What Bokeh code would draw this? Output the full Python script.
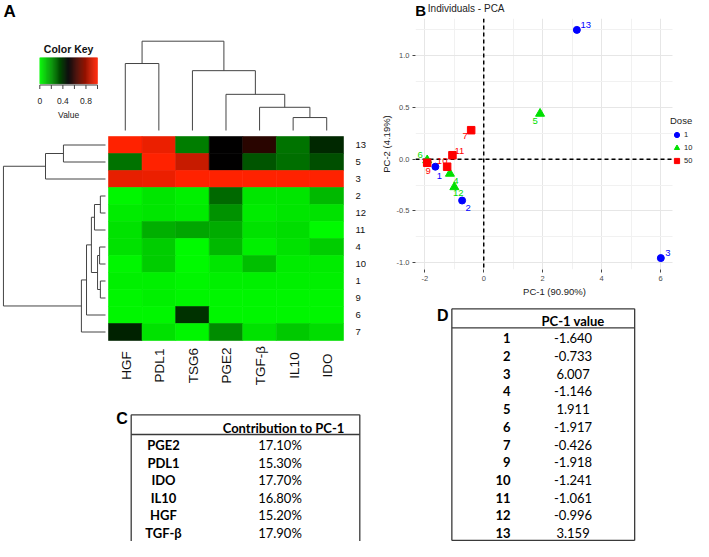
import math
from bokeh.plotting import figure
from bokeh.models import (Range1d, Span, Legend, LegendItem, FixedTicker, BoxAnnotation,
                          PrintfTickFormatter, ColumnDataSource)
from bokeh.layouts import row, column
from bokeh.embed import file_html
from bokeh.resources import INLINE
from bokeh.core.properties import value
from bokeh.transform import linear_cmap

# ======================= DATA =======================
# Panel A : heatmap (rows in displayed order, top to bottom)
genes = ["HGF", "PDL1", "TSG6", "PGE2", "TGF-β", "IL10", "IDO"]
heat_rows = ["13", "5", "3", "2", "12", "11", "4", "10", "1", "9", "6", "7"]
heat_13 = [1.00, 0.96, 0.25, 0.50, 0.58, 0.27, 0.42]
heat_5 = [0.27, 1.00, 0.89, 0.50, 0.33, 0.28, 0.34]
heat_3 = [0.95, 0.96, 1.00, 1.00, 1.00, 1.00, 1.00]
heat_2 = [0.01, 0.04, 0.02, 0.29, 0.04, 0.04, 0.13]
heat_12 = [0.03, 0.04, 0.03, 0.21, 0.03, 0.04, 0.05]
heat_11 = [0.05, 0.15, 0.17, 0.16, 0.05, 0.06, 0.00]
heat_4 = [0.05, 0.09, 0.00, 0.13, 0.02, 0.05, 0.09]
heat_10 = [0.01, 0.09, 0.00, 0.04, 0.12, 0.03, 0.03]
heat_1 = [0.02, 0.02, 0.01, 0.02, 0.02, 0.02, 0.02]
heat_9 = [0.01, 0.02, 0.01, 0.01, 0.01, 0.01, 0.01]
heat_6 = [0.01, 0.01, 0.40, 0.01, 0.01, 0.01, 0.01]
heat_7 = [0.43, 0.05, 0.01, 0.22, 0.05, 0.10, 0.06]
heat_values = [heat_13, heat_5, heat_3, heat_2, heat_12, heat_11,
               heat_4, heat_10, heat_1, heat_9, heat_6, heat_7]

# dendrograms as linkage lists: (child_a, child_b, merge height); leaves first, new ids appended
col_merges = [(5, 6, 0.29), (4, 7, 0.52), (3, 8, 0.81), (2, 9, 1.34), (0, 1, 1.50), (11, 10, 2.00)]
row_merges = [(0, 1, 1.64), (12, 2, 2.34), (3, 4, 0.20), (14, 5, 0.43), (6, 7, 0.23),
              (8, 9, 0.20), (16, 17, 0.31), (15, 18, 0.55), (19, 10, 0.74), (20, 11, 0.94),
              (13, 21, 3.98)]

key_ticks = [0.0, 0.2, 0.4, 0.6, 0.8, 1.0]
key_tick_labels = ["0", "0.4", "0.8"]
key_label_at = [0.0, 0.4, 0.8]

# Panel B : PCA
pca_ids = ["1", "2", "3", "4", "5", "6", "7", "9", "10", "11", "12", "13"]
pc1 = [-1.640, -0.733, 6.007, -1.146, 1.911, -1.917, -0.426, -1.918, -1.241, -1.061, -0.996, 3.159]
pc2 = [-0.073, -0.400, -0.957, -0.140, 0.440, -0.010, 0.280, -0.035, -0.073, 0.038, -0.270, 1.250]
dose = ["1", "1", "1", "10", "10", "10", "50", "50", "50", "50", "10", "1"]
dose_levels = ["1", "10", "50"]
x_ticks = [-2, 0, 2, 4, 6]
x_minor = [-1, 1, 3, 5]
y_ticks = [-1.0, -0.5, 0.0, 0.5, 1.0]
y_minor = [-0.75, -0.25, 0.25, 0.75, 1.25]
x_lim = (-2.314, 6.403)
y_lim = (-1.067, 1.36)

# Panel C : contributions
contrib_genes = ["PGE2", "PDL1", "IDO", "IL10", "HGF", "TGF-β"]
contrib_pct = ["17.10%", "15.30%", "17.70%", "16.80%", "15.20%", "17.90%"]

# Panel D : PC-1 values (pca_ids / pc1)

# ======================= STYLE =======================
ARIAL = "Liberation Sans"
CALIBRI = "Lato"
LINE = "#444444"
W, H = 693, 541          # whole page content
SPLIT_X = 366            # boundary between left and right columns
STRIP_H = 18
RIGHT_COL_W = 409
SHIFT = 41               # observed horizontal offset of strip / table D in the right column


def make_palette(n=256):
    pal = []
    for k in range(n):
        t = k / (n - 1)
        if t <= 0.5:
            s = (0.5 - t) / 0.5
            r, g, b = 0, 250 * s, 0
        else:
            s = (t - 0.5) / 0.5
            r, g, b = 255 * s, 34 * s, 0
        pal.append("#%02x%02x%02x" % (int(round(r)), int(round(g)), int(round(b))))
    return pal


PALETTE = make_palette()


def mapped_range(lo_px, hi_px, px_at_zero, px_per_unit):
    return Range1d(start=(lo_px - px_at_zero) / px_per_unit, end=(hi_px - px_at_zero) / px_per_unit)


def dendro_segments(merges, leaf_pos):
    pos = list(leaf_pos)
    hgt = [0.0] * len(leaf_pos)
    p0, h0, p1, h1 = [], [], [], []
    for a, b, h in merges:
        for c in (a, b):
            p0.append(pos[c]); h0.append(hgt[c]); p1.append(pos[c]); h1.append(h)
        p0.append(pos[a]); h0.append(h); p1.append(pos[b]); h1.append(h)
        pos.append((pos[a] + pos[b]) / 2.0)
        hgt.append(h)
    return p0, h0, p1, h1


def blank_fig(x0, x1, y0, y1):
    p = figure(width=x1 - x0, height=y1 - y0, x_range=Range1d(x0, x1), y_range=Range1d(y1, y0),
               x_axis_location=None, y_axis_location=None, min_border=0,
               toolbar_location=None, output_backend="svg", outline_line_color=None,
               background_fill_color="white", border_fill_color="white", align="start")
    p.xgrid.visible = False
    p.ygrid.visible = False
    return p


# ======================= PANEL A =======================
pA = blank_fig(0, SPLIT_X, 0, 400)
pA.extra_x_ranges = {
    "col": mapped_range(0, SPLIT_X, 108, 33.57),
    "rowdend": mapped_range(0, SPLIT_X, 105, -25.64),
    "key": mapped_range(0, SPLIT_X, 39.3, 57.7),
}
pA.extra_y_ranges = {
    "row": mapped_range(400, 0, 340, -17.0),
    "coldend": mapped_range(400, 0, 130, -44.65),
}
nrow = len(heat_rows)
hx, hy, hv = [], [], []
for i, vals in enumerate(heat_values):
    for j, v in enumerate(vals):
        hx.append(j + 0.5)
        hy.append(nrow - 1 - i + 0.5)
        hv.append(v)
cmap = linear_cmap("v", PALETTE, 0, 1)
pA.rect(x="x", y="y", width=1, height=1, source=ColumnDataSource(dict(x=hx, y=hy, v=hv)),
        fill_color=cmap, line_color=cmap, line_width=0.6, x_range_name="col", y_range_name="row")

cp0, ch0, cp1, ch1 = dendro_segments(col_merges, [j + 0.5 for j in range(len(genes))])
pA.segment(x0=cp0, y0=ch0, x1=cp1, y1=ch1, line_color=LINE, line_width=1,
           x_range_name="col", y_range_name="coldend")
rp0, rh0, rp1, rh1 = dendro_segments(row_merges, [nrow - 1 - i + 0.5 for i in range(nrow)])
pA.segment(x0=rh0, y0=rp0, x1=rh1, y1=rp1, line_color=LINE, line_width=1,
           x_range_name="rowdend", y_range_name="row")

pA.text(x=[355] * nrow, y=[nrow - 1 - i + 0.5 for i in range(nrow)], text=heat_rows,
        text_font=value(ARIAL), text_font_size="9.5px", text_align="left",
        text_baseline="middle", text_color="#111111", y_range_name="row")
pA.text(x=[j + 0.5 for j in range(len(genes))], y=[365] * len(genes), text=genes,
        angle=math.pi / 2, x_offset=1, text_font=value(ARIAL), text_font_size="13.5px",
        text_align="center", text_baseline="alphabetic", text_color="#111111",
        x_range_name="col")

nk = 60
kx = [(k + 0.5) / nk for k in range(nk)]
pA.rect(x="x", y=70.3, width=1.0 / nk * 1.04, height=26,
        source=ColumnDataSource(dict(x=kx, v=kx)), fill_color=cmap, line_color=cmap,
        line_width=0.5, x_range_name="key")
pA.segment(x0=[key_ticks[0]], y0=[84.5], x1=[key_ticks[-1]], y1=[84.5], line_color=LINE,
           line_width=1, x_range_name="key")
pA.segment(x0=key_ticks, y0=[84.5] * len(key_ticks), x1=key_ticks, y1=[88.5] * len(key_ticks),
           line_color=LINE, line_width=1, x_range_name="key")
pA.text(x=key_label_at, y=[100] * 3, text=key_tick_labels, text_font=value(ARIAL),
        text_font_size="8.5px", text_align="center", text_baseline="middle",
        text_color="#222222", x_range_name="key")
pA.text(x=[0.5], y=[114], text=["Value"], text_font=value(ARIAL), text_font_size="8.5px",
        text_align="center", text_baseline="middle", text_color="#222222", x_range_name="key")
pA.text(x=[0.5], y=[48.5], text=["Color Key"], text_font=value(ARIAL), text_font_size="10.5px",
        text_font_style="bold", text_align="center", text_baseline="middle",
        text_color="#111111", x_range_name="key")
pA.text(x=[3], y=[11], text=["A"], text_font=value(ARIAL), text_font_size="17px",
        text_font_style="bold", text_align="left", text_baseline="middle", text_color="black")

# ======================= PANEL B =======================
stripB = blank_fig(SPLIT_X + SHIFT, SPLIT_X + SHIFT + RIGHT_COL_W, 0, STRIP_H)
stripB.text(x=[413], y=[9.5], text=["B"], text_font=value(ARIAL), text_font_size="15px",
            text_font_style="bold", text_align="center", text_baseline="middle",
            text_color="black")
stripB.text(x=[421], y=[7.5], text=["Individuals - PCA"], text_font=value(ARIAL),
            text_font_size="10px", text_align="left", text_baseline="middle",
            text_color="#222222")

FRAME_L, FRAME_PANEL_R = 415, 672       # ggplot panel edges (page px)
PX_PER_X = (FRAME_PANEL_R - FRAME_L) / (x_lim[1] - x_lim[0])
x_end = x_lim[0] + (W - FRAME_L) / PX_PER_X   # frame runs on to the page edge (legend area)
pB = figure(width=W - SPLIT_X, height=300 - STRIP_H, x_range=Range1d(x_lim[0], x_end),
            y_range=Range1d(*y_lim),
            min_border_left=FRAME_L - SPLIT_X, min_border_right=0, min_border_top=0,
            min_border_bottom=31, align="start",
            toolbar_location=None, output_backend="svg", outline_line_color=None,
            background_fill_color="white", border_fill_color="white")
xt = FixedTicker(ticks=x_ticks, minor_ticks=x_minor)
yt = FixedTicker(ticks=y_ticks, minor_ticks=y_minor)
pB.xaxis.ticker = xt
pB.yaxis.ticker = yt
pB.xgrid.ticker = xt
pB.ygrid.ticker = yt
pB.yaxis.formatter = PrintfTickFormatter(format="%.1f")
pB.xaxis.formatter = PrintfTickFormatter(format="%d")
for g in (pB.xgrid, pB.ygrid):
    g.grid_line_color = "#E6E6E6"
    g.minor_grid_line_color = "#F1F1F1"
for ax in (pB.xaxis, pB.yaxis):
    ax.axis_line_color = None
    ax.major_tick_line_color = "#444444"
    ax.major_tick_out = 3
    ax.major_tick_in = 0
    ax.minor_tick_line_color = None
    ax.major_label_text_font = ARIAL
    ax.major_label_text_font_size = "7.5px"
    ax.major_label_text_color = "#4D4D4D"
    ax.major_label_standoff = 2
    ax.axis_label_text_font = ARIAL
    ax.axis_label_text_font_size = "9.5px"
    ax.axis_label_text_font_style = "normal"
    ax.axis_label_text_color = "#222222"
    ax.axis_label_standoff = 2
pB.xaxis.axis_label = "PC-1 (90.90%)"
pB.yaxis.axis_label = "PC-2 (4.19%)"

pB.add_layout(Span(location=0, dimension="height", line_color="black", line_dash="4 3",
                   line_width=1.5, level="underlay"))
pB.add_layout(Span(location=0, dimension="width", line_color="black", line_dash="4 3",
                   line_width=1.5, level="underlay"))
# white area to the right of the ggplot panel (legend area)
pB.add_layout(BoxAnnotation(left=x_lim[1], fill_color="white", fill_alpha=1.0,
                            line_color=None, level="underlay"))

dose_colors = {"1": "#0000FF", "10": "#00E000", "50": "#FF0000"}
dose_markers = {"1": "circle", "10": "triangle", "50": "square"}
dose_sizes = {"1": 7, "10": 9, "50": 7.5}
label_dx = {"1": 4, "2": 6, "3": 7, "13": 9, "4": 6, "5": -5, "6": -7, "12": 4,
            "7": -6, "9": 1, "10": -5, "11": 7}
label_dy = {"1": 9, "2": 7, "3": -5, "13": -5, "4": 7, "5": 7, "6": -5, "12": 6,
            "7": 6, "9": 8, "10": -6, "11": -4}

items = []
for lvl in dose_levels:
    idx = [i for i, d in enumerate(dose) if d == lvl]
    src = ColumnDataSource(dict(
        x=[pc1[i] for i in idx], y=[pc2[i] for i in idx], lab=[pca_ids[i] for i in idx],
        dx=[label_dx[pca_ids[i]] for i in idx], dy=[label_dy[pca_ids[i]] for i in idx]))
    r = pB.scatter("x", "y", source=src, marker=dose_markers[lvl], size=dose_sizes[lvl],
                   fill_color=dose_colors[lvl], line_color=dose_colors[lvl])
    pB.text("x", "y", text="lab", source=src, x_offset="dx", y_offset="dy",
            text_font=value(ARIAL), text_font_size="9.5px", text_align="center",
            text_baseline="middle", text_color=dose_colors[lvl])
    items.append(LegendItem(label=lvl, renderers=[r]))

legend = Legend(items=items, title="Dose", location=(255, 102), orientation="vertical",
                background_fill_alpha=0, border_line_color=None, padding=0, margin=0,
                spacing=0, glyph_height=13, glyph_width=13, label_height=13, label_width=9,
                label_standoff=1, title_standoff=2,
                label_text_font=ARIAL, label_text_font_size="7.5px", label_text_color="#222222",
                title_text_font=ARIAL, title_text_font_size="9.5px",
                title_text_font_style="normal", title_text_color="#222222")
pB.add_layout(legend)

# ======================= PANEL C =======================
pC = blank_fig(0, SPLIT_X, 400, H)
pC.extra_y_ranges = {"trow": mapped_range(H, 400, 427.4, 17.5)}
cL, cR, cT, cH = 130.7, 359.3, 414.3, 434
pC.segment(x0=[cL, cL, cL, cR], y0=[cT, cH, cT, cT], x1=[cR, cR, cL, cR], y1=[cT, cH, H, H],
           line_color="#3a3a3a", line_width=1.3)
nC = len(contrib_genes)
pC.text(x=[283], y=[0], text=["Contribution to PC-1"], text_font=value(CALIBRI),
        text_font_size="13px", text_font_style="bold", text_align="center",
        text_baseline="middle", text_color="black", y_range_name="trow")
pC.text(x=[163] * nC, y=list(range(1, nC + 1)), text=contrib_genes, text_font=value(CALIBRI),
        text_font_size="13px", text_font_style="bold", text_align="center",
        text_baseline="middle", text_color="black", y_range_name="trow")
pC.text(x=[279.5] * nC, y=list(range(1, nC + 1)), text=contrib_pct, text_font=value(CALIBRI),
        text_font_size="13px", text_align="center", text_baseline="middle",
        text_color="black", y_range_name="trow")
pC.text(x=[121.5], y=[418], text=["C"], text_font=value(ARIAL), text_font_size="16px",
        text_font_style="bold", text_align="center", text_baseline="middle", text_color="black")

# ======================= PANEL D =======================
pD = blank_fig(SPLIT_X + SHIFT, SPLIT_X + SHIFT + RIGHT_COL_W, 300, H)
pD.extra_y_ranges = {"trow": mapped_range(H, 300, 320.1, 17.7)}
dL, dR, dT, dH, dB = 448.3, 656.0, 308.3, 327.3, H - 1
pD.segment(x0=[dL, dL, dL, dR, dL], y0=[dT, dH, dT, dT, dB], x1=[dR, dR, dL, dR, dR],
           y1=[dT, dH, dB, dB, dB], line_color="#3a3a3a", line_width=1.3)
nD = len(pca_ids)
pD.text(x=[586], y=[0], text=["PC-1 value"], text_font=value(CALIBRI), text_font_size="13px",
        text_font_style="bold", text_align="center", text_baseline="middle",
        text_color="black", y_range_name="trow")
pD.text(x=[515] * nD, y=list(range(1, nD + 1)), text=pca_ids, text_font=value(CALIBRI),
        text_font_size="13px", text_font_style="bold", text_align="right",
        text_baseline="middle", text_color="black", y_range_name="trow")
pD.text(x=[586] * nD, y=list(range(1, nD + 1)), text=["%.3f" % v for v in pc1],
        text_font=value(CALIBRI), text_font_size="13px", text_align="center",
        text_baseline="middle", text_color="black", y_range_name="trow")
pD.text(x=[438], y=[315], text=["D"], text_font=value(ARIAL), text_font_size="16px",
        text_font_style="bold", text_align="center", text_baseline="middle", text_color="black")

layout = row(column(pA, pC, align="start"), column(stripB, pB, pD, align="start"))
with open("out.html", "w", encoding="utf-8") as f:
    f.write(file_html(layout, INLINE, "chart"))
